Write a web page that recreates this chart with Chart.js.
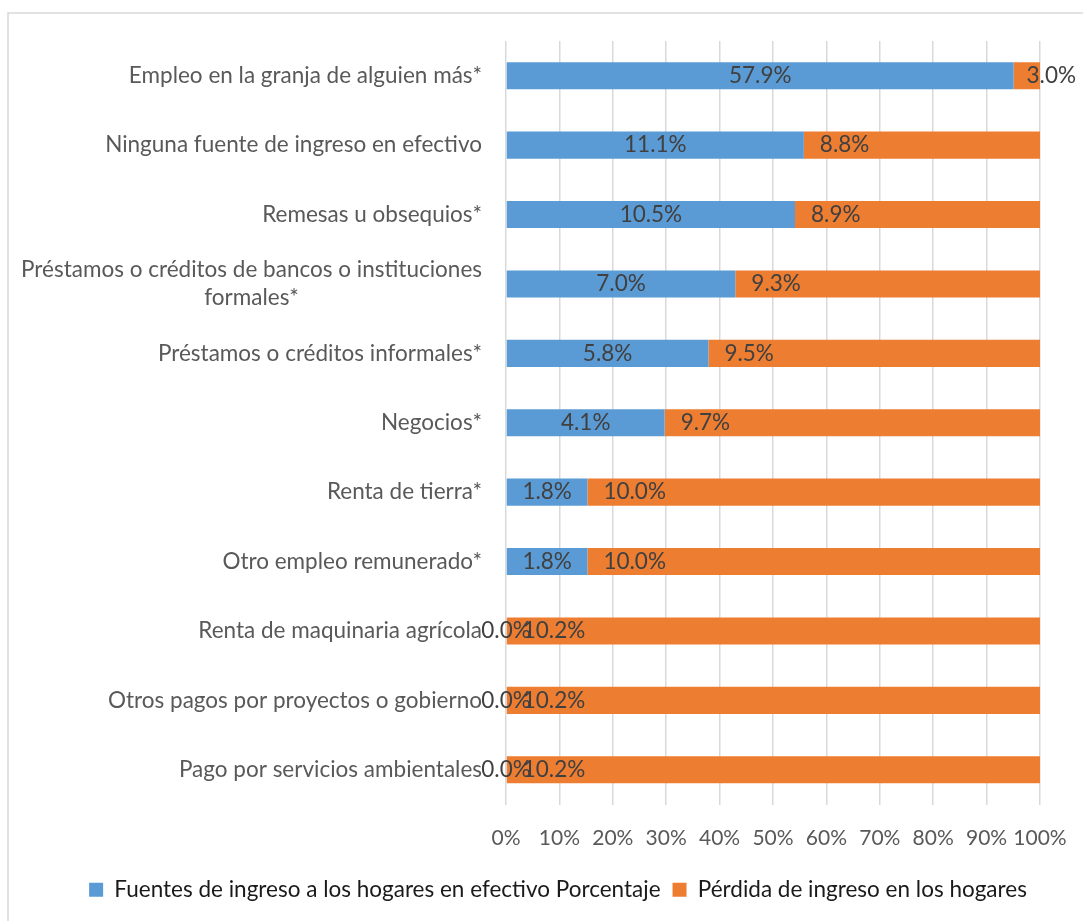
<!DOCTYPE html>
<html>
<head>
<meta charset="utf-8">
<script src="https://cdn.jsdelivr.net/npm/chart.js@4"></script>
<style>
    body { margin: 0; background: #ffffff; }
    #wrap { width: 1083px; height: 921px; }
</style>
</head>
<body>
<div id="wrap"><canvas id="incomeChart" width="1083" height="921"></canvas></div>
<script>
/* Fuentes de ingreso - 100% stacked bars */

const categories = [
    'Empleo en la granja de alguien más*',
    'Ninguna fuente de ingreso en efectivo',
    'Remesas u obsequios*',
    ['Préstamos o créditos de bancos o instituciones', 'formales*'],
    'Préstamos o créditos informales*',
    'Negocios*',
    'Renta de tierra*',
    'Otro empleo remunerado*',
    'Renta de maquinaria agrícola',
    'Otros pagos por proyectos o gobierno',
    'Pago por servicios ambientales'
];

const fuentes = [57.9, 11.1, 10.5, 7.0, 5.8, 4.1, 1.8, 1.8, 0.0, 0.0, 0.0];
const perdida = [3.0, 8.8, 8.9, 9.3, 9.5, 9.7, 10.0, 10.0, 10.2, 10.2, 10.2];
const xTickLabels = ['0%', '10%', '20%', '30%', '40%', '50%', '60%', '70%', '80%', '90%', '100%'];

const seriesNames = [
    'Fuentes de ingreso a los hogares en efectivo Porcentaje',
    'Pérdida de ingreso en los hogares'
];

// bars are shown as share of the row total (100% stacked)
function share(values, i) {
    const total = fuentes[i] + perdida[i];
    return total === 0 ? 0 : values[i] / total * 100;
}

const FONT = 'Lato';

const frame = {
    id: 'frame',
    beforeDraw(chart) {
        const ctx = chart.ctx;
        ctx.save();
        ctx.strokeStyle = '#d9d9d9';
        ctx.lineWidth = 1.5;
        ctx.strokeRect(8, 13, 1200, 1000);
        ctx.restore();
    }
};

// nudge the legend a bit to the right / down, like the original
const legendShift = {
    id: 'legendShift',
    afterLayout(chart) {
        const lg = chart.legend;
        lg.left += 38; lg.right += 38;
        lg.top += 2; lg.bottom += 2;
    }
};

// category labels: right aligned, multi-line ones centered on their widest line
const categoryLabels = {
    id: 'categoryLabels',
    afterDraw(chart) {
        const ctx = chart.ctx;
        const yScale = chart.scales.y;
        const right = 482;
        ctx.save();
        ctx.font = '22.5px ' + FONT;
        ctx.fillStyle = '#595959';
        ctx.textBaseline = 'middle';
        categories.forEach((label, i) => {
            const y = yScale.getPixelForValue(i);
            const lines = Array.isArray(label) ? label : [label];
            const widest = Math.max(...lines.map(l => ctx.measureText(l).width));
            const cx = right - widest / 2;
            ctx.textAlign = 'center';
            lines.forEach((line, j) => {
                const ly = y + (j - (lines.length - 1) / 2) * 28;
                ctx.fillText(line, cx, ly);
            });
        });
        ctx.restore();
    }
};

// value labels: first series centered, second near the start of its segment
const valueLabels = {
    id: 'valueLabels',
    afterDatasetsDraw(chart) {
        const ctx = chart.ctx;
        ctx.save();
        ctx.font = '22.5px ' + FONT;
        ctx.fillStyle = '#404040';
        ctx.textBaseline = 'middle';
        chart.getDatasetMeta(0).data.forEach((bar, i) => {
            ctx.textAlign = 'center';
            ctx.fillText(fuentes[i].toFixed(1) + '%', (bar.x + bar.base) / 2, bar.y);
        });
        chart.getDatasetMeta(1).data.forEach((bar, i) => {
            const text = perdida[i].toFixed(1) + '%';
            const w = ctx.measureText(text).width;
            const left = Math.min(bar.base + 16, 1076 - w);
            ctx.textAlign = 'left';
            ctx.fillText(text, left, bar.y);
        });
        ctx.restore();
    }
};

const ctx = document.getElementById('incomeChart').getContext('2d');
new Chart(ctx, {
    type: 'bar',
    data: {
        labels: categories,
        datasets: [{
            label: seriesNames[0],
            data: fuentes.map((v, i) => share(fuentes, i)),
            backgroundColor: '#5b9bd5',
            barPercentage: 0.39,
            categoryPercentage: 1
        }, {
            label: seriesNames[1],
            data: perdida.map((v, i) => share(perdida, i)),
            backgroundColor: '#ed7d31',
            barPercentage: 0.39,
            categoryPercentage: 1
        }]
    },
    options: {
        indexAxis: 'y',
        responsive: false,
        animation: false,
        layout: {
            padding: { top: 41, right: 43, bottom: 12, left: 0 }
        },
        scales: {
            x: {
                stacked: true,
                min: 0,
                max: 100,
                border: { display: false },
                grid: { color: '#d9d9d9', lineWidth: 1.5, drawTicks: false },
                ticks: {
                    stepSize: 10,
                    padding: 21,
                    maxRotation: 0,
                    minRotation: 0,
                    autoSkip: false,
                    color: '#595959',
                    font: { family: FONT, size: 21 },
                    callback: (value, index) => xTickLabels[index]
                },
                afterFit(scale) {
                    scale.height = 60;
                    scale.paddingLeft = 0;
                    scale.paddingRight = 0;
                }
            },
            y: {
                stacked: true,
                border: { display: false },
                grid: { display: false },
                ticks: { display: false },
                afterFit(scale) { scale.width = 506; }
            }
        },
        plugins: {
            legend: {
                position: 'bottom',
                labels: {
                    boxWidth: 14,
                    boxHeight: 14,
                    padding: 12,
                    color: '#1a1a1a',
                    font: { family: FONT, size: 22.5 }
                }
            },
            tooltip: { enabled: false }
        }
    },
    plugins: [frame, legendShift, categoryLabels, valueLabels]
});
</script>
</body>
</html>
